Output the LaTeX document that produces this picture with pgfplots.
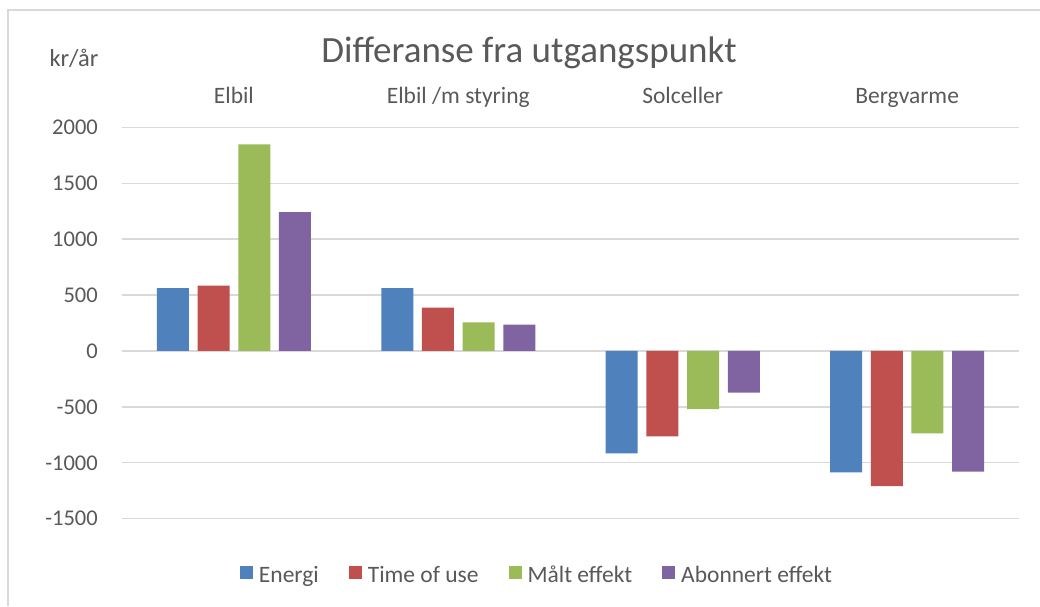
\documentclass[border=0pt]{standalone}
\usepackage{fontspec}
\setmainfont{Carlito}
\usepackage{pgfplots}
\pgfplotsset{compat=1.18}
\definecolor{cE}{HTML}{4F81BD}
\definecolor{cT}{HTML}{C0504D}
\definecolor{cM}{HTML}{9BBB59}
\definecolor{cA}{HTML}{8064A2}
\definecolor{txt}{HTML}{595959}
\definecolor{grd}{HTML}{D9D9D9}
\begin{document}
\begin{tikzpicture}[x=1pt,y=1pt]
\path[use as bounding box] (0,0) rectangle (1040,606);
\fill[white] (0,0) rectangle (1040,606);
\draw[grd, line width=1.3pt] (8,0) -- (8,596) -- (1040,596);
\begin{axis}[
 at={(121.7pt,87.3pt)}, anchor=south west,
 scale only axis, width=897.6pt, height=391.4pt,
 xmin=-0.5, xmax=3.5, ymin=-1500, ymax=2000,
 ytick={-1500,-1000,...,2000},
 xtick={0,1,2,3},
 xticklabels={Elbil, Elbil /m styring, Solceller, Bergvarme},
 xticklabel pos=upper,
 x tick label style={anchor=base, yshift=24.3pt, font=\fontsize{23.5}{28}\selectfont, text=txt, inner sep=0pt},
 y tick label style={anchor=east, xshift=-23.7pt, font=\fontsize{22.5}{27}\selectfont, text=txt, inner sep=0pt},
 /pgf/number format/assume math mode=true,
 /pgf/number format/1000 sep={},
 axis line style={draw=none}, major tick length=0pt,
 ymajorgrids, grid style={grd, line width=1.3pt},
 ybar=8.7pt, bar width=32pt,
 legend columns=4,
 legend style={at={(0.4616,-0.1438)}, anchor=center, draw=none, fill=none,
   font=\fontsize{23.5}{28}\selectfont, text=txt,
   nodes={inner sep=0pt},
   /tikz/every odd column/.append style={column sep=6pt},
   /tikz/every even column/.append style={column sep=30pt}},
 legend image code/.code={\fill[#1] (0pt,-4pt) rectangle (13pt,9pt);},
]
\addplot[fill=cE, draw=none] coordinates {(0,562) (1,562) (2,-916) (3,-1086)};
\addplot[fill=cT, draw=none] coordinates {(0,584) (1,387) (2,-764) (3,-1208)};
\addplot[fill=cM, draw=none] coordinates {(0,1848) (1,256) (2,-521) (3,-738)};
\addplot[fill=cA, draw=none] coordinates {(0,1241) (1,235) (2,-372) (3,-1080)};
\legend{Energi, Time of use, Målt effekt, Abonnert effekt}
\end{axis}
\node[anchor=base, text=txt, font=\fontsize{37}{44}\selectfont, inner sep=0pt] at (529,543) {Differanse fra utgangspunkt};
\node[anchor=base, text=txt, font=\fontsize{24.5}{29}\selectfont, inner sep=0pt] at (74,539) {kr/år};
\end{tikzpicture}
\end{document}
